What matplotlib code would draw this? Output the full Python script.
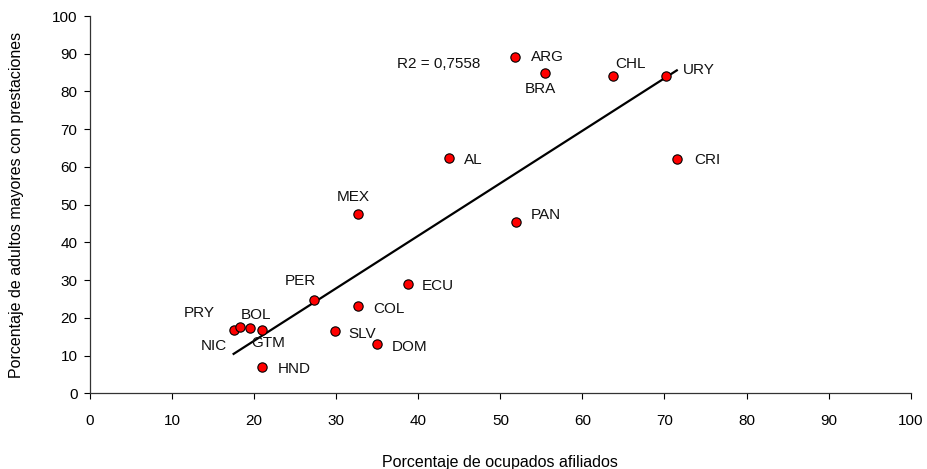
import matplotlib
matplotlib.use("Agg")
import matplotlib.pyplot as plt
import numpy as np

plt.rcParams['font.family'] = ['Liberation Sans', 'DejaVu Sans']

countries = ["ARG", "BRA", "CHL", "URY", "CRI", "AL", "MEX", "PAN", "ECU",
             "COL", "SLV", "DOM", "PER", "HND", "GTM", "BOL", "NIC", "PRY"]
afiliados = [51.8, 55.5, 63.7, 70.2, 71.5, 43.7, 32.7, 51.9, 38.7,
             32.6, 29.8, 35.0, 27.3, 21.0, 20.9, 19.5, 17.5, 18.3]
prestaciones = [89.2, 85.0, 84.2, 84.2, 62.2, 62.4, 47.5, 45.4, 28.9,
                23.1, 16.6, 13.1, 24.6, 6.9, 16.7, 17.2, 16.7, 17.6]
r2_text = "R2 = 0,7558"

# where each label sits relative to its dot (pixels) and alignment
label_pos = {
    "ARG": (16, 0, "left"), "BRA": (-5, -16, "center"), "CHL": (2, 12, "left"),
    "URY": (17, 6, "left"), "CRI": (17, -1, "left"), "AL": (15, -2, "left"),
    "MEX": (-5, 17, "center"), "PAN": (15, 7, "left"), "ECU": (14, -2, "left"),
    "COL": (16, -3, "left"), "SLV": (14, -3, "left"), "DOM": (15, -3, "left"),
    "PER": (-14, 19, "center"), "HND": (15, -2, "left"), "GTM": (-10, -13, "left"),
    "BOL": (-9, 13, "left"), "NIC": (-7, -16, "right"), "PRY": (-25, 14, "right"),
}

fig = plt.figure(figsize=(9.27, 4.69), dpi=100)
ax = fig.add_axes([90/927, 1-393.3/469, (910.7-90)/927, (393.3-16)/469])

# trend line from the countries (AL is the regional average)
xs = np.array([a for a, c in zip(afiliados, countries) if c != "AL"])
ys = np.array([p for p, c in zip(prestaciones, countries) if c != "AL"])
m, b = np.polyfit(xs, ys, 1)
xl = np.array([xs.min(), xs.max()])
ax.plot(xl, m*xl + b, color='black', lw=1.6, zorder=2)

ax.scatter(afiliados, prestaciones, s=45, color='#FF0000', edgecolors='black',
           linewidths=0.8, zorder=3)

for c, x, y in zip(countries, afiliados, prestaciones):
    dx, dy, ha = label_pos[c]
    ax.annotate(c, (x, y), xytext=(dx, dy), textcoords='offset pixels',
                ha=ha, va='center', fontsize=11, color='#111111')

ax.text(37.4, 87.2, r2_text, fontsize=11, va='center', ha='left', color='#111111')

ax.set_xlim(0, 100)
ax.set_ylim(0, 100)
ax.set_xticks(range(0, 101, 10))
ax.set_yticks(range(0, 101, 10))
for s in ['top', 'right']:
    ax.spines[s].set_visible(False)
for s in ['left', 'bottom']:
    ax.spines[s].set_color('#333333')
    ax.spines[s].set_linewidth(0.9)
ax.tick_params(axis='x', direction='out', length=4, pad=11, labelsize=11)
ax.tick_params(axis='y', direction='out', length=4, pad=5, labelsize=11)
ax.set_xlabel('Porcentaje de ocupados afiliados', fontsize=11.5, va='center')
ax.set_ylabel('Porcentaje de adultos mayores con prestaciones', fontsize=11.5, va='center')
ax.xaxis.set_label_coords(0.5, -(462 - 393.3) / 377.3)
ax.yaxis.set_label_coords(-(90 - 17) / 820.7, 0.5)

fig.savefig('out.png', dpi=100)
